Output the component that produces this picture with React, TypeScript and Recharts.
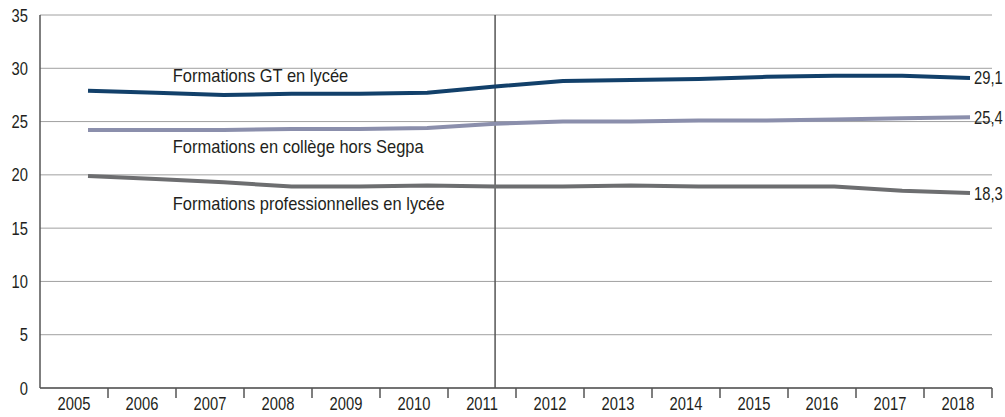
import React from 'react';
import { ComposedChart, Line, XAxis, YAxis, CartesianGrid, ReferenceLine, ReferenceDot, LabelList } from 'recharts';

const years = ['2005','2006','2007','2008','2009','2010','2011','2012','2013','2014','2015','2016','2017','2018'];
const gt = [27.9, 27.7, 27.5, 27.6, 27.6, 27.7, 28.3, 28.8, 28.9, 29.0, 29.2, 29.3, 29.3, 29.1];
const college = [24.2, 24.2, 24.2, 24.3, 24.3, 24.4, 24.8, 25.0, 25.0, 25.1, 25.1, 25.2, 25.3, 25.4];
const pro = [19.9, 19.6, 19.3, 18.9, 18.9, 19.0, 18.9, 18.9, 19.0, 18.9, 18.9, 18.9, 18.5, 18.3];
const yTicks = [0, 5, 10, 15, 20, 25, 30, 35];

const data = years.map((year, i) => ({ year, idx: i, gt: gt[i], college: college[i], pro: pro[i] }));

const W = 1005;
const H = 417;
const LEFT = 40;
const RIGHT = 13;
const BAND = (W - LEFT - RIGHT) / years.length;
const FONT = '"Liberation Sans", Arial, sans-serif';
const TEXT = '#231f20';
const NUM_SCALE = 0.82;
const LABEL_SCALE = 0.915;

const SText = ({ x, y, anchor = 'start', scale, children }: any) => (
  <text
    transform={`translate(${x},${y}) scale(${scale},1)`}
    x={0}
    y={0}
    textAnchor={anchor}
    dominantBaseline="central"
    fontFamily={FONT}
    fontSize={18}
    fill={TEXT}
  >
    {children}
  </text>
);

const XTick = (props: any) => {
  const { x, y, payload } = props;
  return (
    <g>
      <line x1={x + BAND / 2} x2={x + BAND / 2} y1={y - 8} y2={y + 2} stroke="#555" strokeWidth={1.5} />
      <SText x={x} y={y + 7.5} anchor="middle" scale={NUM_SCALE}>{payload.value}</SText>
    </g>
  );
};

const YTick = (props: any) => {
  const { y, payload } = props;
  return <SText x={LEFT - 12} y={y} anchor="end" scale={NUM_SCALE}>{payload.value}</SText>;
};

const endLabel = (props: any) => {
  const { x, y, index, value } = props;
  if (index !== years.length - 1) return null;
  return <SText x={x + 4} y={y} scale={NUM_SCALE}>{String(value).replace('.', ',')}</SText>;
};

const seriesLabel = (text: string) => (props: any) => (
  <SText x={props.cx} y={props.cy} scale={LABEL_SCALE}>{text}</SText>
);

export default function App() {
  return (
    <div style={{ position: 'absolute', left: 0, top: 0, width: W, height: H, background: '#fff' }}>
      <ComposedChart width={W} height={H} data={data} margin={{ top: 15, right: RIGHT, bottom: 0, left: 0 }}>
        <CartesianGrid xAxisId="cat" vertical={false} stroke="#a0a0a0" strokeWidth={1} />
        <XAxis
          xAxisId="cat"
          dataKey="year"
          type="category"
          scale="band"
          height={29}
          axisLine={{ stroke: '#555', strokeWidth: 1.5 }}
          tickLine={false}
          tick={<XTick />}
          interval={0}
        />
        <XAxis xAxisId="num" dataKey="idx" type="number" domain={[-0.7075, 13.324]} hide allowDataOverflow />
        <YAxis
          domain={[0, 35]}
          ticks={yTicks}
          width={LEFT}
          axisLine={{ stroke: '#555', strokeWidth: 1.5 }}
          tickLine={false}
          tick={<YTick />}
          interval={0}
        />
        <ReferenceLine xAxisId="num" x={6} stroke="#555" strokeWidth={1.5} />
        <Line xAxisId="num" type="linear" dataKey="gt" stroke="#12406a" strokeWidth={4} dot={false} isAnimationActive={false}>
          <LabelList dataKey="gt" content={endLabel} />
        </Line>
        <Line xAxisId="num" type="linear" dataKey="college" stroke="#8b8fac" strokeWidth={4} dot={false} isAnimationActive={false}>
          <LabelList dataKey="college" content={endLabel} />
        </Line>
        <Line xAxisId="num" type="linear" dataKey="pro" stroke="#6d6e70" strokeWidth={4} dot={false} isAnimationActive={false}>
          <LabelList dataKey="pro" content={endLabel} />
        </Line>
        <ReferenceDot xAxisId="num" x={1.25} y={29.3} r={0} shape={seriesLabel('Formations GT en lycée')} />
        <ReferenceDot xAxisId="num" x={1.25} y={22.6} r={0} shape={seriesLabel('Formations en collège hors Segpa')} />
        <ReferenceDot xAxisId="num" x={1.25} y={17.3} r={0} shape={seriesLabel('Formations professionnelles en lycée')} />
      </ComposedChart>
    </div>
  );
}
